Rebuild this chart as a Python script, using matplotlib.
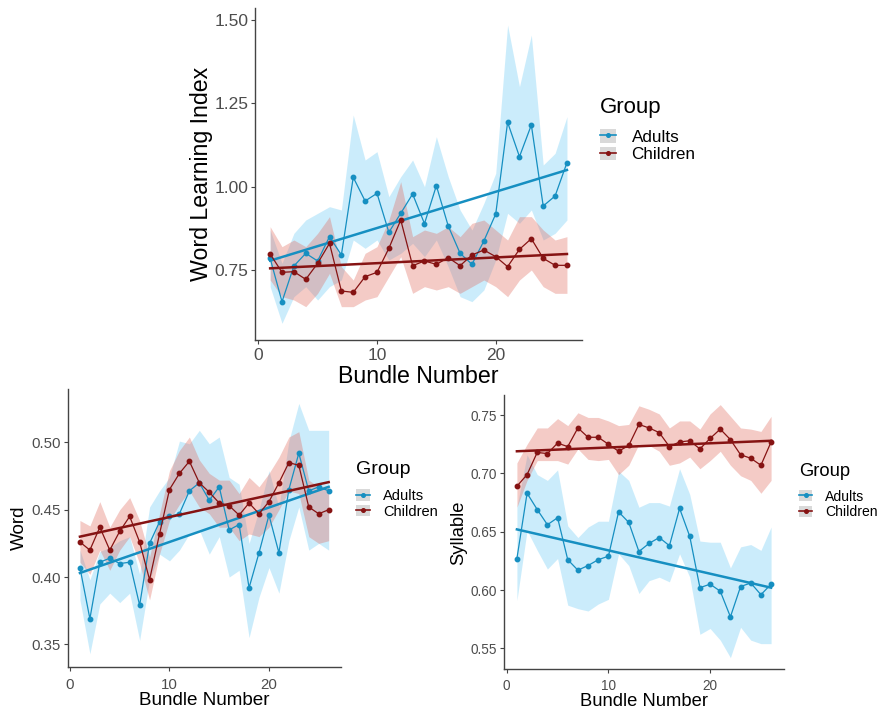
import numpy as np
import matplotlib
matplotlib.use('Agg')

import matplotlib.pyplot as plt
from matplotlib.patches import Patch
from matplotlib.lines import Line2D

plt.rcParams['font.family'] = ['Liberation Sans', 'DejaVu Sans']

# ---------- Data ----------

bundles = list(range(1, 27))
groups = ['Adults', 'Children']

# Word Learning Index
adults_wli = [0.785, 0.655, 0.762, 0.800, 0.777, 0.850, 0.795, 1.028, 0.957, 0.980, 0.863, 0.920, 0.978,
              0.889, 1.003, 0.882, 0.800, 0.767, 0.837, 0.918, 1.193, 1.090, 1.185, 0.942, 0.972, 1.072]
adults_wli_lo = [0.70, 0.59, 0.67, 0.70, 0.66, 0.70, 0.72, 0.84, 0.815, 0.84, 0.78, 0.80, 0.83,
                 0.79, 0.84, 0.76, 0.67, 0.655, 0.69, 0.78, 0.92, 0.89, 0.93, 0.84, 0.86, 0.90]
adults_wli_hi = [0.87, 0.77, 0.86, 0.90, 0.92, 0.94, 0.93, 1.215, 1.08, 1.105, 0.97, 1.03, 1.08,
                 1.00, 1.15, 1.03, 0.93, 0.87, 0.95, 1.04, 1.485, 1.30, 1.455, 1.065, 1.10, 1.21]
children_wli = [0.798, 0.743, 0.745, 0.722, 0.770, 0.830, 0.687, 0.683, 0.730, 0.743, 0.815, 0.900, 0.763,
                0.777, 0.767, 0.787, 0.763, 0.795, 0.810, 0.790, 0.760, 0.812, 0.844, 0.785, 0.764, 0.764]
children_wli_lo = [0.72, 0.67, 0.66, 0.64, 0.68, 0.74, 0.64, 0.64, 0.66, 0.67, 0.73, 0.79, 0.68,
                   0.70, 0.69, 0.70, 0.68, 0.70, 0.72, 0.70, 0.67, 0.72, 0.75, 0.70, 0.68, 0.68]
children_wli_hi = [0.88, 0.82, 0.84, 0.82, 0.86, 0.91, 0.76, 0.72, 0.80, 0.82, 0.90, 1.015, 0.85,
                   0.87, 0.86, 0.88, 0.85, 0.89, 0.90, 0.87, 0.84, 0.91, 0.91, 0.87, 0.84, 0.85]
adults_wli_fit = [0.778, 1.050]      # fitted value at bundle 1 and 26
children_wli_fit = [0.755, 0.798]

# Word
adults_word = [0.407, 0.369, 0.411, 0.414, 0.410, 0.411, 0.379, 0.425, 0.441, 0.445, 0.447, 0.464, 0.470,
               0.457, 0.467, 0.435, 0.439, 0.392, 0.418, 0.446, 0.418, 0.465, 0.492, 0.464, 0.467, 0.464]
adults_word_lo = [0.383, 0.343, 0.380, 0.388, 0.381, 0.388, 0.353, 0.398, 0.417, 0.412, 0.420, 0.432, 0.435,
                  0.417, 0.430, 0.400, 0.405, 0.355, 0.385, 0.407, 0.388, 0.427, 0.452, 0.420, 0.425, 0.420]
adults_word_hi = [0.420, 0.398, 0.419, 0.422, 0.427, 0.430, 0.402, 0.452, 0.464, 0.474, 0.501, 0.499, 0.509,
                  0.499, 0.504, 0.474, 0.469, 0.425, 0.450, 0.479, 0.452, 0.501, 0.529, 0.509, 0.509, 0.509]
children_word = [0.426, 0.420, 0.437, 0.420, 0.434, 0.445, 0.426, 0.398, 0.432, 0.465, 0.477, 0.486, 0.470,
                 0.463, 0.455, 0.453, 0.446, 0.455, 0.447, 0.456, 0.470, 0.485, 0.483, 0.452, 0.447, 0.450]
children_word_lo = [0.411, 0.402, 0.420, 0.405, 0.420, 0.430, 0.410, 0.383, 0.417, 0.442, 0.454, 0.464, 0.452,
                    0.447, 0.437, 0.437, 0.427, 0.432, 0.430, 0.437, 0.450, 0.464, 0.462, 0.430, 0.425, 0.427]
children_word_hi = [0.442, 0.438, 0.456, 0.437, 0.450, 0.459, 0.442, 0.415, 0.447, 0.479, 0.494, 0.504, 0.487,
                    0.477, 0.472, 0.472, 0.462, 0.474, 0.467, 0.477, 0.489, 0.504, 0.508, 0.472, 0.467, 0.468]
adults_word_fit = [0.403, 0.467]
children_word_fit = [0.430, 0.4705]

# Syllable
adults_syl = [0.627, 0.683, 0.669, 0.656, 0.662, 0.626, 0.617, 0.621, 0.626, 0.629, 0.667, 0.658, 0.633,
              0.640, 0.645, 0.638, 0.670, 0.646, 0.602, 0.605, 0.599, 0.577, 0.603, 0.606, 0.596, 0.605]
adults_syl_lo = [0.591, 0.651, 0.634, 0.618, 0.627, 0.587, 0.584, 0.582, 0.588, 0.592, 0.631, 0.621, 0.597,
                 0.608, 0.611, 0.607, 0.631, 0.611, 0.562, 0.567, 0.557, 0.542, 0.568, 0.557, 0.554, 0.554]
adults_syl_hi = [0.671, 0.716, 0.699, 0.694, 0.703, 0.655, 0.645, 0.654, 0.659, 0.659, 0.702, 0.694, 0.671,
                 0.675, 0.675, 0.672, 0.704, 0.682, 0.642, 0.641, 0.641, 0.619, 0.637, 0.639, 0.634, 0.654]
children_syl = [0.689, 0.699, 0.718, 0.717, 0.726, 0.723, 0.739, 0.731, 0.731, 0.725, 0.719, 0.724, 0.742,
                0.739, 0.735, 0.723, 0.727, 0.728, 0.721, 0.730, 0.738, 0.729, 0.716, 0.713, 0.707, 0.727]
children_syl_lo = [0.671, 0.694, 0.711, 0.711, 0.711, 0.708, 0.721, 0.712, 0.711, 0.712, 0.699, 0.707, 0.725,
                   0.724, 0.719, 0.707, 0.709, 0.714, 0.704, 0.711, 0.719, 0.707, 0.698, 0.694, 0.683, 0.694]
children_syl_hi = [0.709, 0.725, 0.739, 0.739, 0.747, 0.741, 0.752, 0.748, 0.748, 0.745, 0.741, 0.742, 0.758,
                   0.755, 0.751, 0.739, 0.745, 0.745, 0.738, 0.751, 0.759, 0.749, 0.739, 0.738, 0.736, 0.749]
adults_syl_fit = [0.652, 0.602]
children_syl_fit = [0.719, 0.728]

# ---------- Style ----------

LINE_COLORS = {'Adults': '#168fc1', 'Children': '#861313'}
FILL_COLORS = {'Adults': '#6ccbf5', 'Children': '#e06a5e'}
TICK_GREY = '#4d4d4d'


def draw_panel(ax, series, ylabel, ylim, yticks, tick_fs, label_fs, ylabel_x, xlabel_y, xpad):
    for name in groups:
        mean, lo, hi, fit = series[name]
        ax.fill_between(bundles, lo, hi, color=FILL_COLORS[name], alpha=0.35, linewidth=0)
    for name in groups:
        mean, lo, hi, fit = series[name]
        ax.plot(bundles, mean, color=LINE_COLORS[name], lw=0.9, marker='o', ms=3.2)
        ax.plot([bundles[0], bundles[-1]], fit, color=LINE_COLORS[name], lw=1.8)

    ax.set_xlim(-0.25, 27.25)
    ax.set_ylim(*ylim)
    ax.set_xticks([0, 10, 20])
    ax.set_yticks(yticks)
    ax.set_yticklabels([f'{t:.2f}' for t in yticks])
    for side in ['top', 'right']:
        ax.spines[side].set_visible(False)
    for side in ['left', 'bottom']:
        ax.spines[side].set_color('#444444')
        ax.spines[side].set_linewidth(1.0)
    ax.tick_params(length=3, width=0.8, color='#444444', pad=2,
                   labelsize=tick_fs, labelcolor=TICK_GREY)
    ax.tick_params(axis='x', pad=xpad)
    ax.set_xlabel('Bundle Number', fontsize=label_fs, va='center')
    ax.set_ylabel(ylabel, fontsize=label_fs, va='center')
    ax.xaxis.set_label_coords(0.5, xlabel_y)
    ax.yaxis.set_label_coords(ylabel_x, 0.5)


def add_legend(fig, x, y, title_fs, fs, title_gap):
    handles = []
    for name in groups:
        key = Patch(facecolor='#d9d9d9', edgecolor='none')
        line = Line2D([], [], color=LINE_COLORS[name], lw=1.2, marker='o', ms=2.6)
        handles.append((key, line))
    leg = fig.legend(handles, groups, title='Group', loc='upper left', bbox_to_anchor=(x, y),
                     frameon=False, alignment='left', fontsize=fs, title_fontsize=title_fs,
                     handlelength=0.95, handleheight=0.85, handletextpad=0.9, labelspacing=0.1,
                     borderpad=0, borderaxespad=0)
    # gap between the legend title and the keys
    leg._legend_box.sep = title_gap
    return leg


# ---------- Figure ----------

W, H = 877, 710
fig = plt.figure(figsize=(W / 100, H / 100), dpi=100)


def px_axes(left, top, right, bottom):
    return fig.add_axes([left / W, 1 - bottom / H, (right - left) / W, (bottom - top) / H])


ax_top = px_axes(255.3, 8, 581.8, 340)
ax_word = px_axes(67.5, 388.6, 341.1, 667.2)
ax_syl = px_axes(504.2, 395.3, 783.8, 669.3)

draw_panel(ax_top,
           {'Adults': (adults_wli, adults_wli_lo, adults_wli_hi, adults_wli_fit),
            'Children': (children_wli, children_wli_lo, children_wli_hi, children_wli_fit)},
           'Word Learning Index', (0.54, 1.536), [0.75, 1.00, 1.25, 1.50],
           tick_fs=12.5, label_fs=16.7, ylabel_x=-0.166, xlabel_y=-0.11, xpad=2.5)

draw_panel(ax_word,
           {'Adults': (adults_word, adults_word_lo, adults_word_hi, adults_word_fit),
            'Children': (children_word, children_word_lo, children_word_hi, children_word_fit)},
           'Word', (0.333, 0.540), [0.35, 0.40, 0.45, 0.50],
           tick_fs=10.8, label_fs=13.6, ylabel_x=-0.174, xlabel_y=-0.121, xpad=5)

draw_panel(ax_syl,
           {'Adults': (adults_syl, adults_syl_lo, adults_syl_hi, adults_syl_fit),
            'Children': (children_syl, children_syl_lo, children_syl_hi, children_syl_fit)},
           'Syllable', (0.532, 0.767), [0.55, 0.60, 0.65, 0.70, 0.75],
           tick_fs=9.8, label_fs=13.2, ylabel_x=-0.162, xlabel_y=-0.116, xpad=4)

add_legend(fig, 600 / W, 1 - 97 / H, title_fs=16, fs=12.3, title_gap=8)
add_legend(fig, 356 / W, 1 - 461 / H, title_fs=14, fs=10.5, title_gap=8)
add_legend(fig, 799 / W, 1 - 463 / H, title_fs=13.2, fs=10.1, title_gap=7)

fig.savefig('out.png', dpi=100)
